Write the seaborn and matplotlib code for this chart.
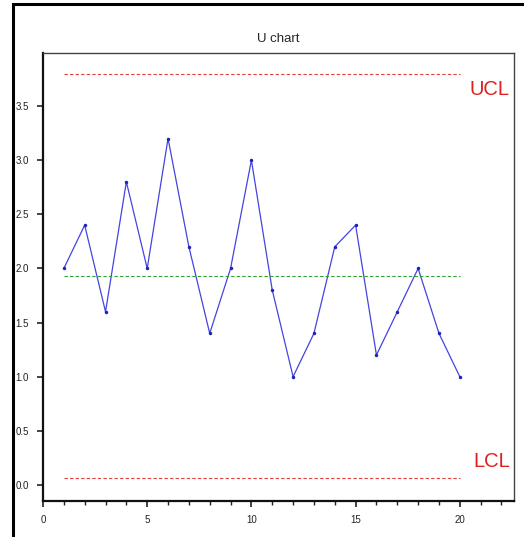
import matplotlib
matplotlib.use("Agg")
import matplotlib.pyplot as plt
from matplotlib.patches import Rectangle
from matplotlib.ticker import MultipleLocator
import pandas as pd
import seaborn as sns

# Defects per unit for each of the 20 samples
samples = list(range(1, 21))
u_values = [2.0, 2.4, 1.6, 2.8, 2.0, 3.2, 2.2, 1.4, 2.0, 3.0,
            1.8, 1.0, 1.4, 2.2, 2.4, 1.2, 1.6, 2.0, 1.4, 1.0]

# Control limits
ucl = 3.794
center = 1.93
lcl = 0.066

sns.set_theme(style="white")
plt.rcParams["font.family"] = ["Liberation Sans", "DejaVu Sans"]

fig = plt.figure(figsize=(5.24, 5.37), dpi=100)
ax = fig.add_axes([43 / 524, 1 - 501 / 537, (514 - 43) / 524, (501 - 53) / 537])

df = pd.DataFrame({"sample": samples, "u": u_values})
sns.lineplot(data=df, x="sample", y="u", ax=ax, color="#4444e0", linewidth=0.9,
             marker="o", markersize=2.5, markeredgewidth=0, markerfacecolor="#2020c0")

x0, x1 = samples[0], samples[-1]
ax.plot([x0, x1], [ucl, ucl], linestyle=(0, (3, 2)), color="#e04040", linewidth=0.8)
ax.plot([x0, x1], [center, center], linestyle=(0, (3, 2)), color="#30a030", linewidth=0.8)
ax.plot([x0, x1], [lcl, lcl], linestyle=(0, (3, 2)), color="#e04040", linewidth=0.8)

ax.text(22.4, 3.65, "UCL", color="#e02020", fontsize=14.5, ha="right", va="center")
ax.text(22.4, 0.22, "LCL", color="#e02020", fontsize=14.5, ha="right", va="center")

ax.set_xlim(0, 22.6)
ax.set_ylim(-0.148, 3.99)
ax.set_xticks([0, 5, 10, 15, 20])
ax.xaxis.set_minor_locator(MultipleLocator(1))
ax.set_yticks([0.0, 0.5, 1.0, 1.5, 2.0, 2.5, 3.0, 3.5])
ax.set_yticklabels([f"{v:.1f}" for v in [0.0, 0.5, 1.0, 1.5, 2.0, 2.5, 3.0, 3.5]])
ax.tick_params(axis="both", which="major", direction="out", length=4, width=1.2,
               labelsize=7, colors="#222222", pad=6)
ax.tick_params(axis="x", which="minor", direction="out", length=3, width=1.0,
               bottom=True, colors="#222222")
ax.tick_params(axis="x", bottom=True, top=False)
ax.tick_params(axis="y", left=True, right=False)
ax.set_xlabel("")
ax.set_ylabel("")
ax.set_title("U chart", fontsize=9.5, pad=8)

for side in ["top", "right"]:
    ax.spines[side].set_color("#444444")
    ax.spines[side].set_linewidth(1.0)
for side in ["left", "bottom"]:
    ax.spines[side].set_color("#111111")
    ax.spines[side].set_linewidth(1.6)

# Outer frame around the figure
fig.patches.append(Rectangle((13 / 524, -0.05), 1.2, 1 - 4 / 537 + 0.05,
                             transform=fig.transFigure, fill=False,
                             edgecolor="black", linewidth=2.2))

fig.savefig("out.png", dpi=100)
